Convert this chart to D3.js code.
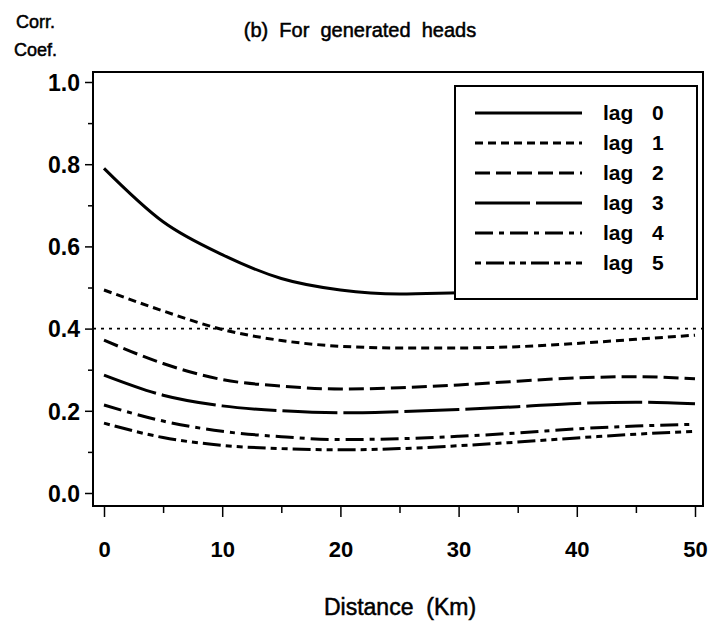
<!DOCTYPE html>
<html>
<head>
<meta charset="utf-8">
<script src="https://cdn.jsdelivr.net/npm/d3@7"></script>
<style>
  body { margin: 0; background: #fff; }
  svg { font-family: "Liberation Sans", Arial, sans-serif; }
  text { white-space: pre; }
</style>
</head>
<body>
<div id="chart"></div>
<script>
// distance in km
const distance = [0, 5, 10, 15, 20, 25, 30, 35, 40, 45, 50];
const lag0 = [0.790, 0.660, 0.580, 0.522, 0.494, 0.484, 0.487, 0.490, 0.496, 0.500, 0.500];
const lag1 = [0.494, 0.443, 0.398, 0.371, 0.357, 0.353, 0.353, 0.356, 0.364, 0.374, 0.384];
const lag2 = [0.372, 0.315, 0.276, 0.260, 0.253, 0.256, 0.263, 0.272, 0.280, 0.283, 0.278];
const lag3 = [0.287, 0.238, 0.212, 0.200, 0.195, 0.198, 0.203, 0.210, 0.218, 0.221, 0.217];
const lag4 = [0.214, 0.175, 0.150, 0.137, 0.130, 0.132, 0.138, 0.146, 0.156, 0.163, 0.167];
const lag5 = [0.170, 0.135, 0.116, 0.108, 0.105, 0.108, 0.115, 0.124, 0.134, 0.143, 0.150];
const refLine = [0.4, 0.4];
const seriesNames = ['lag 0', 'lag 1', 'lag 2', 'lag 3', 'lag 4', 'lag 5'];
const yTicks = [0, 0.1, 0.2, 0.3, 0.4, 0.5, 0.6, 0.7, 0.8, 0.9, 1.0];
const xTicks = [0, 5, 10, 15, 20, 25, 30, 35, 40, 45, 50];

const dashes = [null, '8,5', '15,6', '55,6', '18,6,5,6', '6,5,18,5,6,5'];
const series = [lag0, lag1, lag2, lag3, lag4, lag5];

const width = 712, height = 629;
const svg = d3.select('#chart').append('svg')
    .attr('width', width)
    .attr('height', height);

const x = d3.scaleLinear().domain([0, 50]).range([104, 695]);
const y = d3.scaleLinear().domain([0, 1]).range([493, 82]);

// plot frame
const frame = { left: 93, right: 703, top: 72, bottom: 506 };
svg.append('rect')
    .attr('x', frame.left)
    .attr('y', frame.top)
    .attr('width', frame.right - frame.left)
    .attr('height', frame.bottom - frame.top)
    .attr('fill', 'none')
    .attr('stroke', '#000')
    .attr('stroke-width', 2);

// y axis
const yAxis = svg.append('g')
    .attr('transform', `translate(${frame.left},0)`)
    .call(d3.axisLeft(y).tickValues(yTicks).tickSize(6)
        .tickFormat(d => Math.round(d * 10) % 2 === 0 ? d.toFixed(1) : ''));
yAxis.select('.domain').remove();
yAxis.selectAll('line').attr('stroke-width', 1.5)
    .attr('x2', d => Math.round(d * 10) % 2 === 0 ? -8 : -5);
yAxis.selectAll('text')
    .attr('x', -13)
    .attr('dy', '0.36em')
    .attr('font-size', '23px')
    .attr('font-weight', 'bold')
    .attr('fill', '#000');

// x axis
const xAxis = svg.append('g')
    .attr('transform', `translate(0,${frame.bottom})`)
    .call(d3.axisBottom(x).tickValues(xTicks).tickSize(9)
        .tickFormat(d => d % 10 === 0 ? d : ''));
xAxis.select('.domain').remove();
xAxis.selectAll('line').attr('stroke-width', 1.5)
    .attr('y2', d => d % 10 === 0 ? 11 : 7);
xAxis.selectAll('text')
    .attr('y', 35)
    .attr('font-size', '22px')
    .attr('font-weight', 'bold')
    .attr('fill', '#000');

// reference dotted line
svg.append('line')
    .attr('x1', frame.left)
    .attr('x2', frame.right)
    .attr('y1', y(refLine[0]))
    .attr('y2', y(refLine[1]))
    .attr('stroke', '#000')
    .attr('stroke-width', 1.6)
    .attr('stroke-dasharray', '3,5');

const line = d3.line()
    .x((d, i) => x(distance[i]))
    .y(d => y(d))
    .curve(d3.curveMonotoneX);

svg.selectAll('path.series')
    .data(series)
    .enter().append('path')
    .attr('class', 'series')
    .attr('d', line)
    .attr('fill', 'none')
    .attr('stroke', '#000')
    .attr('stroke-width', 3)
    .attr('stroke-dasharray', (d, i) => dashes[i]);

// legend
const legend = svg.append('g');
legend.append('rect')
    .attr('x', 455)
    .attr('y', 86)
    .attr('width', 242)
    .attr('height', 213)
    .attr('fill', '#fff')
    .attr('stroke', '#000')
    .attr('stroke-width', 2);

const rows = legend.selectAll('g.row')
    .data(seriesNames)
    .enter().append('g')
    .attr('class', 'row')
    .attr('transform', (d, i) => `translate(0,${113 + i * 30})`);

rows.append('line')
    .attr('x1', 475)
    .attr('x2', 582)
    .attr('stroke', '#000')
    .attr('stroke-width', 3)
    .attr('stroke-dasharray', (d, i) => dashes[i]);

rows.append('text')
    .attr('x', 603)
    .attr('dy', '0.35em')
    .attr('font-size', '21px')
    .attr('font-weight', 'bold')
    .text(d => d.split(' ')[0]);

rows.append('text')
    .attr('x', 652)
    .attr('dy', '0.35em')
    .attr('font-size', '21px')
    .attr('font-weight', 'bold')
    .text(d => d.split(' ')[1]);

// titles
svg.append('text')
    .attr('x', 360)
    .attr('y', 37)
    .attr('text-anchor', 'middle')
    .attr('font-size', '20px')
    .attr('stroke', '#000')
    .attr('stroke-width', 0.5)
    .text('(b)  For  generated  heads');

svg.append('text')
    .attr('x', 16)
    .attr('y', 28)
    .attr('font-size', '18px')
    .attr('stroke', '#000')
    .attr('stroke-width', 0.5)
    .text('Corr.');

svg.append('text')
    .attr('x', 14)
    .attr('y', 56)
    .attr('font-size', '18px')
    .attr('stroke', '#000')
    .attr('stroke-width', 0.5)
    .text('Coef.');

svg.append('text')
    .attr('x', 400)
    .attr('y', 615)
    .attr('text-anchor', 'middle')
    .attr('font-size', '23px')
    .attr('stroke', '#000')
    .attr('stroke-width', 0.5)
    .text('Distance  (Km)');
</script>
</body>
</html>
